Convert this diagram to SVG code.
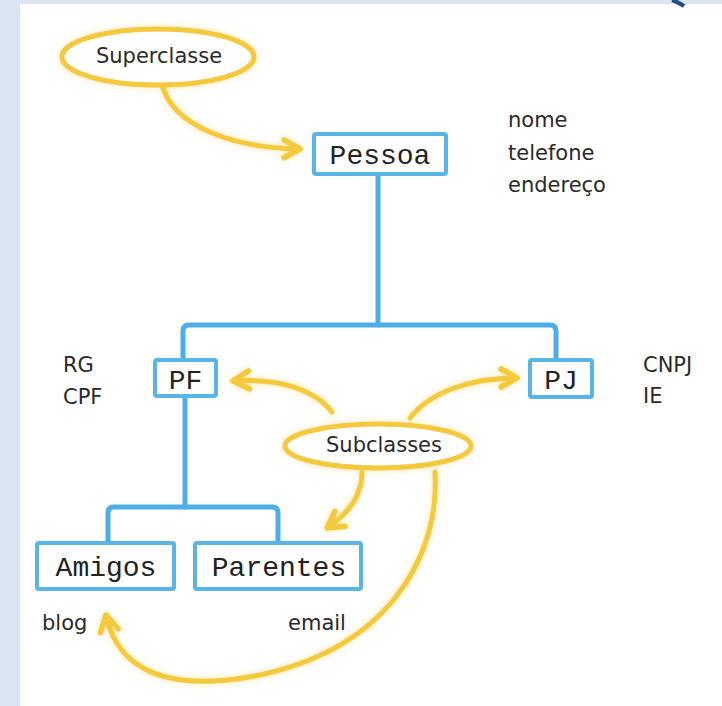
<svg xmlns="http://www.w3.org/2000/svg" width="722" height="706" viewBox="0 0 722 706">
<style>
.lbl{font-family:"DejaVu Sans","Liberation Sans",sans-serif;font-size:21px;fill:#2a2a2a}
.cls{font-family:"Liberation Mono","DejaVu Sans Mono",monospace;font-size:28px;fill:#222;text-anchor:middle}
.box{fill:#fff;stroke:#58b5e6;stroke-width:4}
.tree{fill:none;stroke:#4caee4;stroke-width:5;stroke-linecap:round;stroke-linejoin:round}
.yl{fill:none;stroke:#f4c93e;stroke-width:5;stroke-linecap:round}
.oval{fill:#fff;stroke:#f4c93e;stroke-width:5}
</style>
<defs>
<filter id="glow" x="-20%" y="-20%" width="140%" height="140%">
<feGaussianBlur in="SourceGraphic" stdDeviation="3" result="b"/>
<feComponentTransfer in="b" result="bb"><feFuncA type="linear" slope="0.5"/></feComponentTransfer>
<feMerge><feMergeNode in="bb"/><feMergeNode in="SourceGraphic"/></feMerge>
</filter>
<marker id="ah" markerUnits="userSpaceOnUse" viewBox="0 0 24 24" refX="20" refY="12" markerWidth="24" markerHeight="24" orient="auto">
<path d="M4,3 L20,12 L4,21" fill="none" stroke="#f4c93e" stroke-width="5.5" stroke-linecap="round" stroke-linejoin="round"/>
</marker>
</defs>
<rect x="0" y="0" width="722" height="706" fill="#dbe5f1"/>
<rect x="20" y="4" width="702" height="702" fill="#fff"/>
<path d="M672,0 Q678,2 684,6" fill="none" stroke="#1f4e8a" stroke-width="4"/>

<g id="connectors">
<g class="tree-lines">
<path class="tree" d="M378,174 V325"/>
<path class="tree" d="M183,360 V331 Q183,325 189,325 H550 Q556,325 556,331 V360"/>
<path class="tree" d="M185,396 V507"/>
<path class="tree" d="M108,543 V513 Q108,507 114,507 H272 Q278,507 278,513 V543"/>
</g>
<g filter="url(#glow)">
<path class="yl" d="M163,88 C175,125 230,148 300,149" marker-end="url(#ah)"/>
<path class="yl" d="M332,412 C315,390 280,378 233,381" marker-end="url(#ah)"/>
<path class="yl" d="M410,418 C430,392 470,378 517,378" marker-end="url(#ah)"/>
<path class="yl" d="M362,472 C362,495 350,512 327,528" marker-end="url(#ah)"/>
<path class="yl" d="M435,472 C440,560 385,650 255,676 C170,692 118,672 106,615" marker-end="url(#ah)"/>
</g>
</g>

<g id="superclasse">
<ellipse class="oval" cx="158" cy="57" rx="96" ry="28" filter="url(#glow)"/>
<text class="lbl" x="159" y="63" text-anchor="middle">Superclasse</text>
</g>
<g id="subclasses">
<ellipse class="oval" cx="378" cy="446" rx="93" ry="22" filter="url(#glow)"/>
<text class="lbl" x="384" y="452" text-anchor="middle">Subclasses</text>
</g>

<g id="pessoa">
<rect class="box" x="314" y="134" width="132" height="40" rx="2"/>
<text class="cls" x="380" y="164">Pessoa</text>
</g>
<g id="pessoa-attrs">
<text class="lbl" x="508" y="127">nome</text>
<text class="lbl" x="508" y="160">telefone</text>
<text class="lbl" x="508" y="192">endereço</text>
</g>

<g id="pf">
<rect class="box" x="155" y="360" width="61" height="36" rx="2"/>
<text class="cls" x="185.5" y="389">PF</text>
</g>
<g id="pf-attrs">
<text class="lbl" x="63" y="372">RG</text>
<text class="lbl" x="63" y="404">CPF</text>
</g>

<g id="pj">
<rect class="box" x="530" y="360" width="62" height="37" rx="2"/>
<text class="cls" x="561" y="389">PJ</text>
</g>
<g id="pj-attrs">
<text class="lbl" x="643" y="372">CNPJ</text>
<text class="lbl" x="643" y="403">IE</text>
</g>

<g id="amigos">
<rect class="box" x="37" y="543" width="137" height="46" rx="2"/>
<text class="cls" x="106" y="576">Amigos</text>
</g>
<g id="amigos-attrs">
<text class="lbl" x="42" y="630">blog</text>
</g>

<g id="parentes">
<rect class="box" x="195" y="543" width="166" height="46" rx="2"/>
<text class="cls" x="279" y="576">Parentes</text>
</g>
<g id="parentes-attrs">
<text class="lbl" x="288" y="630">email</text>
</g>
</svg>
